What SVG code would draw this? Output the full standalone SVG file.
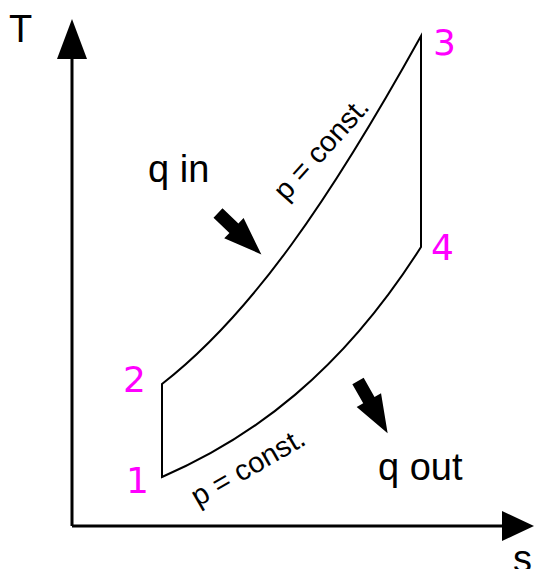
<svg xmlns="http://www.w3.org/2000/svg" width="535" height="569" viewBox="0 0 535 569">
<style>
.ax{stroke:#000;stroke-width:3;fill:none}
.cy{stroke:#000;stroke-width:2;fill:none;stroke-linejoin:miter}
.lbl{font-family:"Liberation Sans",Arial,sans-serif;font-size:38px;fill:#000}
.num{font-family:"DejaVu Sans",sans-serif;font-size:36px;fill:#ff00ff}
.pc{font-family:"Liberation Sans",Arial,sans-serif;font-size:29px;fill:#000}
.hd{fill:#000}
</style>
<defs>
<polygon id="blk" points="0,-6.5 22,-6.5 22,-14 60,0 22,14 22,6.5 0,6.5"/>
</defs>
<g id="axes">
<path class="ax" d="M72,526 V58 M72,526 H504"/>
<polygon class="hd" points="57,59 87,59 72,19"/>
<polygon class="hd" points="502,511 502,541 534,526"/>
<text class="lbl" x="9" y="42">T</text>
<text class="lbl" x="513" y="572">s</text>
</g>
<g id="cycle">
<path class="cy" d="M162,477 V384 C252,314 331,198 421,36 V247 C341,373 252,438 162,477 Z"/>
</g>
<g id="points">
<g id="p1"><text class="num" x="126" y="493">1</text></g>
<g id="p2"><text class="num" x="123" y="392">2</text></g>
<g id="p3"><text class="num" x="433" y="55">3</text></g>
<g id="p4"><text class="num" x="431" y="260">4</text></g>
</g>
<g id="labels">
<text class="pc" transform="translate(286,202) rotate(-48)">p = const.</text>
<text class="pc" transform="translate(198,507) rotate(-30)">p = const.</text>
<text class="lbl" x="148" y="182">q in</text>
<text class="lbl" x="378" y="480">q out</text>
</g>
<g id="heat">
<use href="#blk" transform="translate(218,213) rotate(43.7)"/>
<use href="#blk" transform="translate(358,381) rotate(60.4)"/>
</g>
</svg>
